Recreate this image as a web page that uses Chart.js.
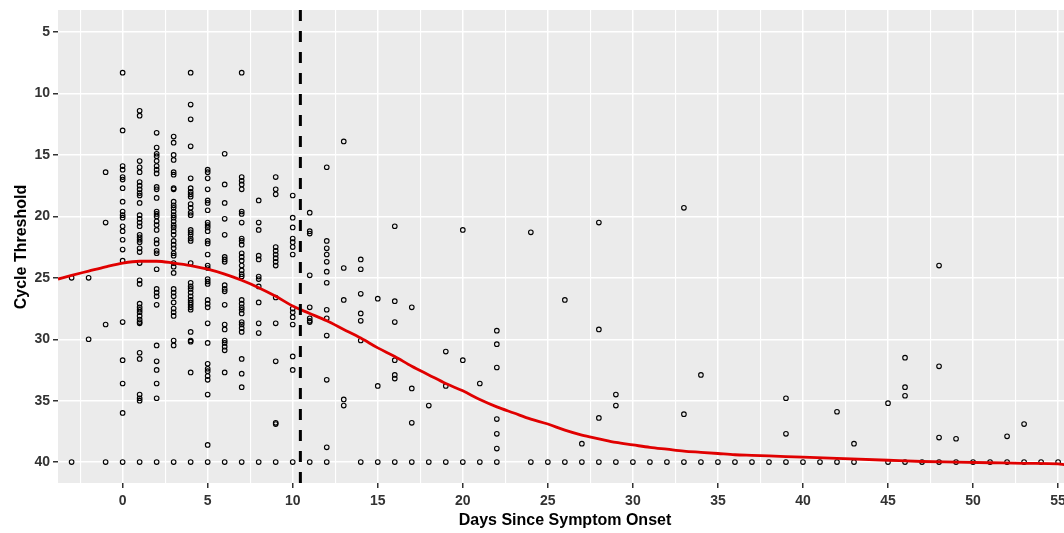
<!DOCTYPE html>
<html>
<head>
<meta charset="utf-8">
<script src="https://cdn.jsdelivr.net/npm/chart.js@4/dist/chart.umd.min.js"></script>
<style>
  html, body { margin: 0; padding: 0; background: #fff; overflow: hidden; }
  #wrap { width: 1070px; height: 533px; position: relative; }
</style>
</head>
<body>
<div id="wrap"><canvas id="myChart"></canvas></div>
<script>
// days since symptom onset and the Ct values observed on each day
const days = [-3, -2, -1, 0, 1, 2, 3, 4, 5, 6, 7, 8, 9, 10, 11, 12, 13, 14, 15, 16, 17, 18, 19, 20, 21, 22,
    24, 25, 26, 27, 28, 29, 30, 31, 32, 33, 34, 35, 36, 37, 38, 39, 40, 41, 42, 43, 45, 46, 47, 48, 49, 50,
    51, 52, 53, 54, 55];
const ctValues = [
    [25.0, 40],
    [25.0, 30.0],
    [16.4, 20.5, 28.8, 40],
    [8.3, 13.0, 15.9, 16.2, 16.8, 17.0, 17.7, 18.8, 19.6, 19.9, 20.1, 20.8, 21.2, 21.9, 22.7, 23.6, 28.6, 31.7, 33.6, 36.0, 40],
    [11.4, 11.8, 15.5, 16.0, 16.4, 17.2, 17.5, 17.8, 18.1, 18.3, 18.9, 19.9, 20.2, 20.5, 20.8, 21.5, 21.7, 21.9, 22.1, 22.6, 22.9, 23.8,
        25.2, 25.5, 27.1, 27.4, 27.6, 27.8, 28.1, 28.4, 28.6, 28.7, 31.1, 31.6, 34.5, 34.8, 35.0, 40],
    [13.2, 14.4, 14.9, 15.1, 15.5, 15.9, 16.2, 16.5, 17.6, 17.8, 18.5, 19.6, 19.8, 20.0, 20.4, 20.7, 21.1, 21.9, 22.2, 22.8, 23.0, 24.3,
        25.9, 26.2, 26.5, 27.2, 30.5, 31.8, 32.5, 33.6, 34.8, 40],
    [13.5, 14.0, 15.0, 15.4, 16.4, 16.6, 17.7, 17.8, 18.8, 19.1, 19.3, 19.6, 19.9, 20.1, 20.4, 20.7, 20.9, 21.2, 21.5, 22.0, 22.3, 22.6,
        23.0, 23.2, 23.8, 24.1, 24.6, 25.9, 26.2, 26.5, 27.0, 27.5, 27.8, 28.1, 30.1, 30.5, 40],
    [8.3, 10.9, 12.1, 14.3, 16.9, 17.7, 18.0, 18.2, 18.4, 19.0, 19.3, 19.7, 19.9, 21.1, 21.3, 21.5, 21.8, 22.0, 23.8, 25.4, 25.7, 25.9,
        26.2, 26.5, 26.8, 27.0, 27.2, 27.4, 27.6, 29.4, 30.1, 30.2, 32.7, 40],
    [16.2, 16.4, 16.9, 17.8, 18.7, 18.9, 19.5, 20.5, 20.7, 20.9, 21.2, 22.0, 22.2, 23.1, 24.0, 24.2, 25.1, 25.3, 25.5, 26.8, 27.1, 27.4,
        28.7, 30.3, 32.0, 32.4, 32.6, 33.0, 33.3, 34.5, 38.6, 40],
    [14.9, 17.4, 18.9, 20.2, 21.5, 23.3, 23.5, 23.7, 25.6, 25.9, 26.1, 27.2, 28.8, 29.2, 30.1, 30.3, 30.6, 30.9, 32.7, 40],
    [8.3, 16.8, 17.1, 17.4, 17.8, 19.6, 19.8, 20.5, 21.8, 22.0, 22.3, 23.0, 23.3, 23.6, 24.0, 24.4, 24.7, 24.9, 26.8, 27.1, 27.4, 27.6,
        27.9, 28.6, 28.8, 29.1, 29.4, 31.6, 32.8, 33.9, 40],
    [18.7, 20.5, 21.1, 23.2, 23.5, 24.9, 25.1, 25.7, 27.0, 28.7, 29.5, 40],
    [16.8, 17.8, 18.2, 22.5, 22.8, 23.1, 23.4, 23.7, 24.0, 26.6, 28.7, 31.8, 36.8, 36.9, 40],
    [18.3, 20.1, 20.9, 21.8, 22.1, 22.5, 23.1, 27.5, 27.8, 28.2, 28.8, 31.4, 32.5, 40],
    [19.7, 21.2, 21.4, 24.8, 27.4, 28.3, 28.5, 28.6, 40],
    [16.0, 22.0, 22.6, 23.1, 23.7, 24.5, 25.4, 27.6, 28.3, 29.7, 33.3, 38.8, 40],
    [13.9, 24.2, 26.8, 34.9, 35.4],
    [23.5, 24.3, 26.3, 27.9, 28.5, 30.1, 40],
    [26.7, 33.8, 40],
    [20.8, 26.9, 28.6, 31.7, 32.9, 33.2, 40],
    [27.4, 34.0, 36.8, 40],
    [35.4, 40],
    [31.0, 33.8, 40],
    [21.1, 31.7, 40],
    [33.6, 40],
    [29.3, 30.4, 32.3, 36.5, 37.7, 38.9, 40],
    [21.3, 40],
    [40],
    [26.8, 40],
    [38.5, 40],
    [20.5, 29.2, 36.4, 40],
    [34.5, 35.4, 40],
    [40],
    [40],
    [40],
    [19.3, 36.1, 40],
    [32.9, 40],
    [40],
    [40],
    [40],
    [40],
    [34.8, 37.7, 40],
    [40],
    [40],
    [35.9, 40],
    [38.5, 40],
    [35.2, 40],
    [31.5, 33.9, 34.6, 40],
    [40],
    [24.0, 32.2, 38.0, 40],
    [38.1, 40],
    [40],
    [40],
    [37.9, 40],
    [36.9, 40],
    [40],
    [40]
];

// smoothed trend (red curve)
const curveDays = [-3.8, -3, -2, -1, 0, 1, 2, 3, 4, 5, 6, 7, 8, 9, 10, 11, 12, 13, 14, 15, 16, 17, 18, 19, 20,
    21, 22, 23, 24, 25, 26, 27, 28, 29, 30, 31, 32, 33, 34, 35, 36, 37, 38, 39, 40, 42, 45, 47, 49, 51, 53, 55, 55.4];
const curveCt = [25.1, 24.8, 24.45, 24.1, 23.8, 23.65, 23.65, 23.8, 24.0, 24.3, 24.7, 25.2, 25.8, 26.5, 27.3, 27.9, 28.5,
    29.2, 29.9, 30.7, 31.4, 32.2, 32.9, 33.6, 34.2, 34.9, 35.5, 36.0, 36.5, 36.9, 37.4, 37.8, 38.1, 38.4, 38.6, 38.8,
    38.95, 39.1, 39.2, 39.3, 39.4, 39.45, 39.5, 39.55, 39.6, 39.7, 39.85, 39.95, 40.0, 40.05, 40.1, 40.15, 40.2];

const cutoffDay = 10.45;

const xTicks = [-2.5, 0, 2.5, 5, 7.5, 10, 12.5, 15, 17.5, 20, 22.5, 25, 27.5, 30, 32.5, 35, 37.5, 40, 42.5, 45, 47.5, 50, 52.5, 55];
const yTicks = [5, 10, 15, 20, 25, 30, 35, 40];
const xRange = [-3.8, 55.4];
const yRange = [3.2, 41.7];

function buildChart() {
    const points = [];
    days.forEach((d, i) => ctValues[i].forEach(v => points.push({ x: d, y: v })));

    const curve = curveDays.map((d, i) => ({ x: d, y: curveCt[i] }));
    const cutoff = [{ x: cutoffDay, y: yRange[0] }, { x: cutoffDay, y: yRange[1] }];

    const isMajor = v => Math.abs(v % 5) < 1e-9;

    const panelBg = {
        id: 'panelBg',
        beforeDraw(chart) {
            const a = chart.chartArea, ctx = chart.ctx;
            ctx.save();
            ctx.fillStyle = '#EBEBEB';
            ctx.fillRect(a.left, a.top, a.right - a.left, a.bottom - a.top);
            ctx.restore();
        }
    };

    const axisTitles = {
        id: 'axisTitles',
        afterDraw(chart) {
            const ctx = chart.ctx;
            ctx.save();
            ctx.fillStyle = '#000';
            ctx.font = 'bold 16px "Liberation Sans", Arial, sans-serif';
            ctx.textAlign = 'center';
            ctx.textBaseline = 'middle';
            ctx.fillText('Days Since Symptom Onset', 565, 521);
            ctx.translate(22, 247);
            ctx.rotate(-Math.PI / 2);
            ctx.fillText('Cycle Threshold', 0, 0);
            ctx.restore();
        }
    };

    const tickFont = { family: '"Liberation Sans", Arial, sans-serif', size: 14, weight: 'bold' };

    const config = {
        type: 'scatter',
        data: {
            datasets: [
                {
                    label: 'Ct',
                    data: points,
                    showLine: false,
                    pointStyle: 'circle',
                    pointRadius: 2.3,
                    pointBorderWidth: 1.1,
                    pointBorderColor: '#000',
                    pointBackgroundColor: 'rgba(0,0,0,0)',
                    order: 3
                },
                {
                    label: 'Trend',
                    type: 'line',
                    data: curve,
                    borderColor: '#E00000',
                    borderWidth: 2.8,
                    pointRadius: 0,
                    tension: 0.4,
                    cubicInterpolationMode: 'monotone',
                    fill: false,
                    order: 2
                },
                {
                    label: 'Cutoff',
                    type: 'line',
                    data: cutoff,
                    borderColor: '#000',
                    borderWidth: 3,
                    borderDash: [11, 10],
                    pointRadius: 0,
                    fill: false,
                    order: 1
                }
            ]
        },
        options: {
            responsive: true,
            maintainAspectRatio: false,
            devicePixelRatio: 1,
            animation: false,
            layout: { padding: { top: 10, left: 0, right: 0, bottom: 0 } },
            plugins: {
                legend: { display: false },
                tooltip: { enabled: false }
            },
            scales: {
                x: {
                    type: 'linear',
                    min: xRange[0],
                    max: xRange[1],
                    border: { display: false },
                    afterBuildTicks: s => { s.ticks = xTicks.map(v => ({ value: v })); },
                    afterFit: s => { s.height = 50; s.paddingLeft = 0; s.paddingRight = 0; },
                    grid: {
                        color: '#FFFFFF',
                        lineWidth: c => (c.tick && isMajor(c.tick.value)) ? 1.5 : 1.1,
                        tickColor: c => (c.tick && isMajor(c.tick.value)) ? '#333333' : 'rgba(0,0,0,0)',
                        tickLength: 5,
                        tickWidth: 1.5
                    },
                    ticks: {
                        autoSkip: false,
                        maxRotation: 0,
                        padding: 5,
                        color: '#333333',
                        font: tickFont,
                        callback: v => isMajor(v) ? String(v) : ''
                    }
                },
                y: {
                    type: 'linear',
                    reverse: true,
                    min: yRange[0],
                    max: yRange[1],
                    border: { display: false },
                    afterBuildTicks: s => { s.ticks = yTicks.map(v => ({ value: v })); },
                    afterFit: s => { s.width = 58; s.paddingTop = 0; s.paddingBottom = 0; },
                    grid: {
                        color: '#FFFFFF',
                        lineWidth: 1.5,
                        tickColor: '#333333',
                        tickLength: 5,
                        tickWidth: 1.5
                    },
                    ticks: {
                        autoSkip: false,
                        padding: 3,
                        color: '#333333',
                        font: tickFont
                    }
                }
            }
        },
        plugins: [panelBg, axisTitles]
    };

    new Chart(document.getElementById('myChart').getContext('2d'), config);
}

buildChart();
</script>
</body>
</html>
